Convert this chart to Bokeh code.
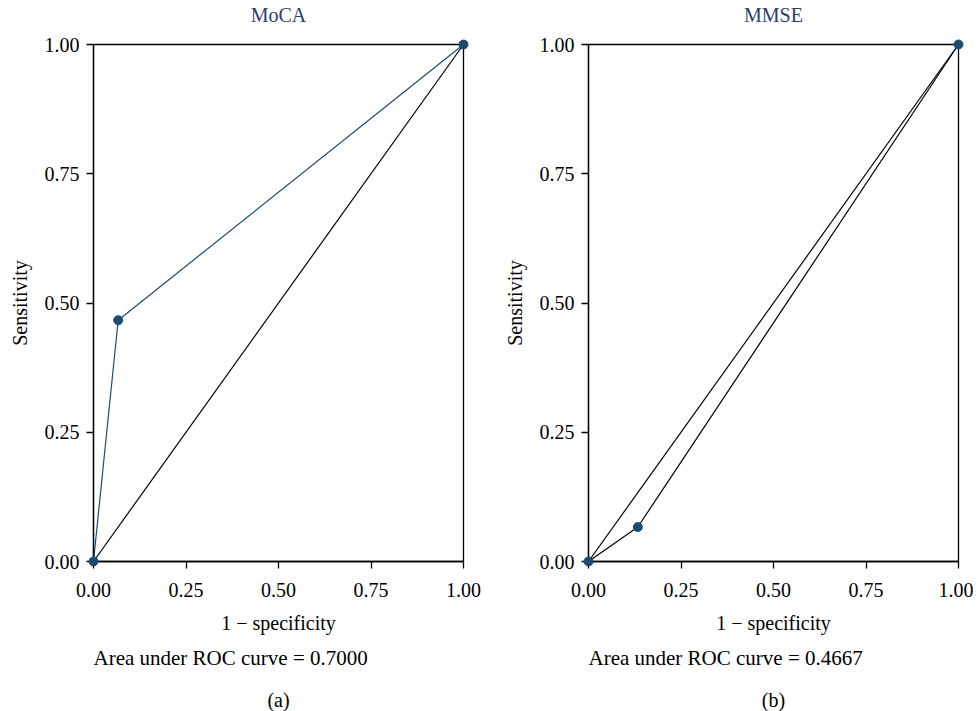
from bokeh.plotting import figure
from bokeh.layouts import row
from bokeh.models import Range1d, FixedTicker, NumeralTickFormatter
from bokeh.core.properties import value
from bokeh.embed import file_html
from bokeh.resources import INLINE

# Data
moca_fpr = [0.0, 0.0667, 1.0]
moca_tpr = [0.0, 0.4667, 1.0]
mmse_fpr = [0.0, 0.1333, 1.0]
mmse_tpr = [0.0, 0.0667, 1.0]
ref_x = [0.0, 1.0]
ref_y = [0.0, 1.0]
ticks = [0.0, 0.25, 0.5, 0.75, 1.0]

titles = ["MoCA", "MMSE"]
x_label = "1 \u2212 specificity"
y_label = "Sensitivity"
aucs = ["Area under ROC curve = 0.7000", "Area under ROC curve = 0.4667"]
panel_labels = ["(a)", "(b)"]

FONT = "Liberation Serif"
FS = "20px"
BLUE = "#1b4b73"
TITLE_COLOR = "#2c3e6b"
FRAME_H = 517  # px height of plotting frame


def put_text(p, text, x, px_from_frame, align="center", color="black", top=False, size=FS):
    # position in pixels converted to data units relative to the frame
    y = 1.0 + px_from_frame / FRAME_H if top else -px_from_frame / FRAME_H
    p.text(x=[x], y=[y], text=[text], text_align=align, text_baseline="middle",
           text_font=value(FONT), text_font_size=size, text_color=color, level="overlay")


def make(fpr, tpr, title, auc, plab, width, border_right, line_color):
    p = figure(width=width, height=711, output_backend="svg", toolbar_location=None,
               x_range=Range1d(0, 1), y_range=Range1d(0, 1),
               min_border_left=93, min_border_right=border_right,
               min_border_top=44, min_border_bottom=150)
    p.grid.visible = False
    p.outline_line_color = "black"
    p.outline_line_width = 1.3
    p.outline_line_alpha = 1
    for ax in (p.xaxis, p.yaxis):
        ax.ticker = FixedTicker(ticks=ticks)
        ax.formatter = NumeralTickFormatter(format="0.00")
        ax.major_label_text_font = FONT
        ax.major_label_text_font_size = FS
        ax.major_label_text_color = "black"
        ax.axis_label_text_font = FONT
        ax.axis_label_text_font_size = FS
        ax.axis_label_text_font_style = "normal"
        ax.axis_label_text_color = "black"
        ax.axis_line_color = "black"
        ax.axis_line_width = 1.3
        ax.major_tick_line_color = "black"
        ax.major_tick_line_width = 1.3
        ax.major_tick_in = 0
        ax.major_tick_out = 7
        ax.minor_tick_line_color = None
    p.yaxis.axis_label = y_label
    p.xaxis.major_label_standoff = 14
    p.yaxis.major_label_standoff = 7
    p.yaxis.axis_label_standoff = 11

    p.line(ref_x, ref_y, line_color="black", line_width=1.2)
    p.line(fpr, tpr, line_color=line_color, line_width=1.2)
    p.scatter(fpr, tpr, size=9, fill_color=BLUE, line_color=BLUE, level="overlay")

    put_text(p, title, 0.5, 30, color=TITLE_COLOR, top=True)
    put_text(p, x_label, 0.5, 61)
    put_text(p, auc, 0.0, 96, align="left", size="21px")
    put_text(p, plab, 0.5, 138)
    return p


p1 = make(moca_fpr, moca_tpr, titles[0], aucs[0], panel_labels[0], 495, 32, BLUE)
p2 = make(mmse_fpr, mmse_tpr, titles[1], aucs[1], panel_labels[1], 478, 15, "black")

layout = row(p1, p2, spacing=0)
open("out.html", "w").write(file_html(layout, INLINE))
